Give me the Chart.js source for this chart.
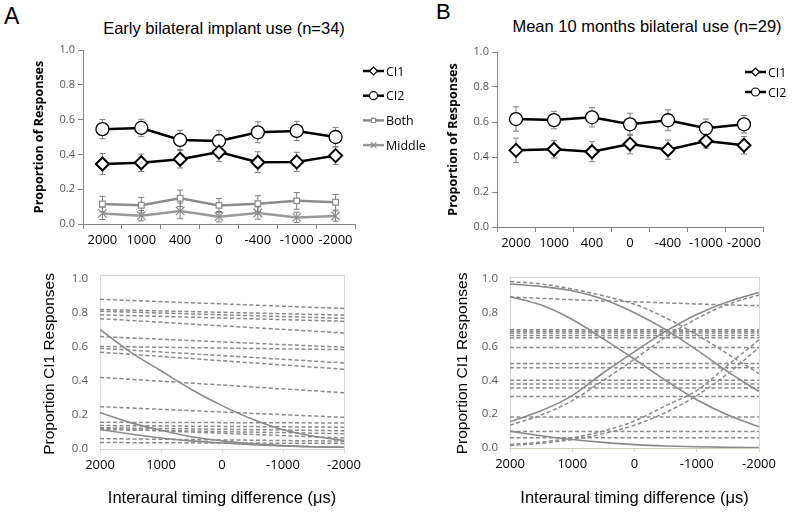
<!DOCTYPE html>
<html>
<head>
<meta charset="utf-8">
<script src="https://cdn.jsdelivr.net/npm/chart.js@4.4.1/dist/chart.umd.min.js"></script>
<style>
  html, body { margin: 0; padding: 0; background: #fff; }
  #page { position: relative; width: 792px; height: 512px; overflow: hidden; font-family: "Liberation Sans", Arial, sans-serif; }
  canvas { position: absolute; }
  .lbl { position: absolute; color: #000; white-space: nowrap; }
  .ttl { position: absolute; color: #000; white-space: nowrap; text-align: center; font-size: 16.5px; }
</style>
</head>
<body>
<div id="page">
  <div class="lbl" style="left:4px;top:3px;font-size:23px;">A</div>
  <div class="lbl" style="left:436px;top:-1px;font-size:22px;">B</div>
  <div class="ttl" style="left:0;width:448px;top:19px;">Early bilateral implant use (n=34)</div>
  <div class="ttl" style="left:447px;width:400px;top:17px;">Mean 10 months bilateral use (n=29)</div>

  <canvas id="topB" width="392" height="220" style="left:400px;top:40px"></canvas>
  <canvas id="topA" width="440" height="220" style="left:0;top:40px"></canvas>
  <canvas id="botA" width="400" height="252" style="left:0;top:260px"></canvas>
  <canvas id="botB" width="392" height="252" style="left:400px;top:260px"></canvas>
</div>
<script>
// ---- top panels: group means with error bars ----
const itdLabels = ['2000', '1000', '400', '0', '-400', '-1000', '-2000'];

const ci1A = [0.345, 0.352, 0.372, 0.413, 0.355, 0.357, 0.393];
const ci1ErrA = [0.06, 0.05, 0.05, 0.055, 0.06, 0.055, 0.05];
const ci2A = [0.545, 0.552, 0.483, 0.477, 0.527, 0.535, 0.50];
const ci2ErrA = [0.055, 0.05, 0.055, 0.06, 0.06, 0.055, 0.055];
const bothA = [0.115, 0.108, 0.148, 0.107, 0.117, 0.133, 0.125];
const bothErrA = [0.044, 0.045, 0.047, 0.04, 0.045, 0.048, 0.045];
const middleA = [0.061, 0.048, 0.075, 0.042, 0.063, 0.038, 0.046];
const middleErrA = [0.035, 0.03, 0.045, 0.03, 0.035, 0.03, 0.03];

const ci1B = [0.438, 0.444, 0.43, 0.474, 0.442, 0.491, 0.467];
const ci1ErrB = [0.07, 0.05, 0.057, 0.056, 0.055, 0.04, 0.05];
const ci2B = [0.617, 0.611, 0.627, 0.587, 0.61, 0.564, 0.587];
const ci2ErrB = [0.07, 0.05, 0.055, 0.063, 0.06, 0.053, 0.05];

// ---- bottom panels: individual fits ----
const fitX = [2000, 1500, 1000, 500, 0, -500, -1000, -1500, -2000];

// near-flat dashed fits, value at 2000 and at -2000
const dashedA = [
  [0.88, 0.826], [0.82, 0.787], [0.81, 0.768], [0.789, 0.751], [0.766, 0.682],
  [0.661, 0.598], [0.603, 0.584], [0.592, 0.506], [0.569, 0.469], [0.421, 0.331],
  [0.249, 0.186], [0.157, 0.153], [0.138, 0.128], [0.125, 0.107], [0.115, 0.09],
  [0.12, 0.065], [0.061, 0.046], [0.038, 0.033]
];
const solidA1 = [0.703, 0.57, 0.46, 0.35, 0.255, 0.175, 0.113, 0.075, 0.05];
const solidA2 = [0.215, 0.155, 0.11, 0.072, 0.048, 0.03, 0.02, 0.013, 0.01];
const solidA3 = [0.115, 0.088, 0.065, 0.048, 0.035, 0.025, 0.018, 0.013, 0.01];

const flatB = [0.70, 0.69, 0.68, 0.665, 0.652, 0.595, 0.50, 0.475, 0.40, 0.378, 0.355, 0.305, 0.183, 0.097, 0.06];
const solidB1 = [0.97, 0.955, 0.93, 0.88, 0.80, 0.70, 0.58, 0.45, 0.335];
const solidB2 = [0.895, 0.845, 0.76, 0.645, 0.525, 0.40, 0.285, 0.195, 0.125];
const solidB3 = [0.155, 0.22, 0.31, 0.445, 0.57, 0.69, 0.79, 0.865, 0.92];
const solidB4 = [0.10, 0.072, 0.05, 0.033, 0.02, 0.012, 0.007, 0.004, 0.002];
const dashB1 = [0.135, 0.195, 0.28, 0.40, 0.525, 0.655, 0.765, 0.85, 0.905];
const dashB2 = [0.985, 0.97, 0.94, 0.90, 0.85, 0.77, 0.67, 0.555, 0.44];
const dashB3 = [0.02, 0.035, 0.06, 0.10, 0.16, 0.25, 0.34, 0.49, 0.64];
const dashB4 = [0.015, 0.028, 0.05, 0.085, 0.135, 0.21, 0.31, 0.44, 0.595];
const dashB5 = [0.893, 0.885, 0.877, 0.87, 0.865, 0.858, 0.852, 0.846, 0.842];

const FIT_GREY = '#8a8a8a';

// draws the error bars behind the markers
const errorBars = {
  id: 'errorBars',
  beforeDatasetsDraw(chart) {
    const ctx = chart.ctx;
    const y = chart.scales.y;
    chart.data.datasets.forEach((ds, i) => {
      if (!ds.errors) return;
      const meta = chart.getDatasetMeta(i);
      ctx.save();
      ctx.strokeStyle = '#7f7f7f';
      ctx.lineWidth = 1;
      meta.data.forEach((pt, j) => {
        const v = ds.data[j], e = ds.errors[j];
        const top = y.getPixelForValue(v + e), bot = y.getPixelForValue(v - e);
        ctx.beginPath();
        ctx.moveTo(pt.x, top); ctx.lineTo(pt.x, bot);
        ctx.moveTo(pt.x - 3, top); ctx.lineTo(pt.x + 3, top);
        ctx.moveTo(pt.x - 3, bot); ctx.lineTo(pt.x + 3, bot);
        ctx.stroke();
      });
      ctx.restore();
    });
  }
};

// legend to the right of the plot: line + small marker + label
const sideLegend = {
  id: 'sideLegend',
  afterDraw(chart, args, opts) {
    const ctx = chart.ctx;
    chart.data.datasets.forEach((ds, i) => {
      const cy = opts.y0 + i * opts.dy;
      const cx = opts.x + opts.len / 2;
      ctx.save();
      ctx.strokeStyle = ds.borderColor;
      ctx.lineWidth = ds.borderWidth;
      ctx.beginPath();
      ctx.moveTo(opts.x, cy); ctx.lineTo(opts.x + opts.len, cy);
      ctx.stroke();
      ctx.fillStyle = '#fff';
      ctx.strokeStyle = ds.pointBorderColor;
      ctx.lineWidth = 1.2;
      Chart.helpers.drawPoint(ctx, { pointStyle: ds.pointStyle, radius: ds.pointStyle === 'rect' ? 3 : 4, borderWidth: 1.2, rotation: 0 }, cx, cy);
      ctx.fillStyle = '#000';
      ctx.font = '12.5px "Open Sans"';
      ctx.textBaseline = 'middle';
      ctx.fillText(ds.label, opts.x + opts.len + 2, cy + 1);
      ctx.restore();
    });
  }
};

// light box round the plot area
const frame = {
  id: 'frame',
  beforeDatasetsDraw(chart, args, opts) {
    const a = chart.chartArea, ctx = chart.ctx;
    ctx.save();
    ctx.strokeStyle = '#d9d9d9';
    ctx.lineWidth = 1;
    ctx.strokeRect(Math.round(a.left) + 0.5, Math.round(a.top - opts.extraTop) + 0.5, Math.round(a.width), Math.round(a.height + opts.extraTop));
    if (opts.bottomColor) {
      ctx.strokeStyle = opts.bottomColor;
      ctx.beginPath();
      ctx.moveTo(a.left, Math.round(a.bottom) + 0.5); ctx.lineTo(a.right, Math.round(a.bottom) + 0.5);
      ctx.stroke();
    }
    ctx.restore();
  }
};

function meanSet(label, data, errors, style) {
  return Object.assign({
    label, data, errors,
    borderColor: '#000', borderWidth: 2.5,
    pointBackgroundColor: '#fff', pointBorderColor: '#000',
    pointBorderWidth: 1.6, pointRadius: 6, tension: 0
  }, style);
}

function topChart(id, datasets, g) {
  return new Chart(document.getElementById(id), {
    type: 'line',
    data: { labels: itdLabels, datasets },
    options: {
      responsive: false, animation: false,
      layout: { padding: { left: g.padL, right: g.padR, top: g.padT, bottom: 0 } },
      plugins: { legend: { display: false }, tooltip: { enabled: false }, sideLegend: g.legend },
      scales: {
        x: {
          type: 'category', offset: true,
          grid: { display: true, drawOnChartArea: false, offset: true, tickLength: 5, color: '#868686' },
          border: { display: true, color: '#868686' },
          ticks: { color: '#000', font: { family: 'Open Sans', size: 13 }, padding: 3, maxRotation: 0, autoSkip: false },
          afterFit: s => { s.height = g.xh; }
        },
        y: {
          min: 0, max: 1,
          grid: { drawOnChartArea: false, tickLength: 5, color: '#868686' },
          border: { color: '#868686' },
          ticks: { stepSize: 0.2, color: '#595959', font: { family: 'Open Sans', size: 11 }, padding: 3, callback: v => v.toFixed(1) },
          title: { display: true, text: 'Proportion of Responses', color: '#000', font: { family: 'Open Sans', size: 12.5, weight: 'bold' }, padding: 2 },
          afterFit: s => { s.width = g.yw; }
        }
      }
    },
    plugins: [errorBars, sideLegend]
  });
}

topChart('topA', [
  meanSet('CI1', ci1A, ci1ErrA, { pointStyle: 'rectRot', pointRadius: 6.5, pointBorderWidth: 2 }),
  meanSet('CI2', ci2A, ci2ErrA, { pointStyle: 'circle', pointRadius: 6.5, pointBorderWidth: 1.3 }),
  meanSet('Both', bothA, bothErrA, { borderColor: '#8c8c8c', pointBorderColor: '#8c8c8c', pointStyle: 'rect', pointRadius: 4, pointBorderWidth: 1.2 }),
  meanSet('Middle', middleA, middleErrA, { borderColor: '#9a9a9a', pointBorderColor: '#8c8c8c', pointStyle: 'crossRot', pointRadius: 6, pointBorderWidth: 1.2 })
], { padL: 30, padR: 85, padT: 10, yw: 53, xh: 36, legend: { x: 363, y0: 31, dy: 24.7, len: 21 } });

topChart('topB', [
  meanSet('CI1', ci1B, ci1ErrB, { pointStyle: 'rectRot', pointRadius: 6.5, pointBorderWidth: 2 }),
  meanSet('CI2', ci2B, ci2ErrB, { pointStyle: 'circle', pointRadius: 6.5, pointBorderWidth: 1.3 })
], { padL: 44, padR: 29, padT: 12, yw: 53, xh: 33, legend: { x: 345, y0: 32, dy: 20, len: 21 } });

function pts(ys) { return ys.map((y, i) => ({ x: fitX[i], y })); }
function flat(a, b) { return [{ x: 2000, y: a }, { x: -2000, y: b }]; }
function fitSet(data, dashed) {
  return {
    data, borderColor: FIT_GREY, borderWidth: dashed ? 1.5 : 1.6,
    borderDash: dashed ? [4, 2.5] : [], pointRadius: 0,
    tension: 0.4, cubicInterpolationMode: 'monotone'
  };
}

function bottomChart(id, datasets, g) {
  return new Chart(document.getElementById(id), {
    type: 'line',
    data: { datasets },
    options: {
      responsive: false, animation: false,
      layout: { padding: { left: g.padL, right: g.padR, top: g.padT, bottom: 0 } },
      plugins: { legend: { display: false }, tooltip: { enabled: false }, frame: { extraTop: g.extraTop, bottomColor: g.bottomColor } },
      scales: {
        x: {
          type: 'linear', min: -2000, max: 2000, reverse: true,
          grid: { drawOnChartArea: false, tickLength: 4, color: '#d9d9d9' },
          border: { display: false },
          ticks: { stepSize: 1000, color: '#000', font: { family: 'Open Sans', size: 13 }, padding: 4, maxRotation: 0, callback: v => String(v) },
          title: { display: true, text: 'Interaural timing difference (μs)', color: '#000', font: { family: 'Liberation Sans', size: 16.5 }, padding: 4 },
          afterFit: s => { s.height = g.xh; }
        },
        y: {
          min: 0, max: 1,
          grid: { drawOnChartArea: false, drawTicks: false },
          border: { display: false },
          ticks: { stepSize: 0.2, color: '#595959', font: { family: 'Open Sans', size: 11.5 }, padding: 12, callback: v => v.toFixed(1) },
          title: { display: true, text: 'Proportion CI1 Responses', color: '#000', font: { family: 'Liberation Sans', size: 15.5 }, padding: 2 },
          afterFit: s => { s.width = g.yw; }
        }
      }
    },
    plugins: [frame]
  });
}

bottomChart('botA', [
  ...dashedA.map(([a, b]) => fitSet(flat(a, b), true)),
  fitSet(pts(solidA1), false),
  fitSet(pts(solidA2), false),
  fitSet(pts(solidA3), false)
], { padL: 38, padR: 56, padT: 15, yw: 62, xh: 63, extraTop: 4 });

bottomChart('botB', [
  ...flatB.map(v => fitSet(flat(v, v), true)),
  fitSet(pts(dashB1), true),
  fitSet(pts(dashB2), true),
  fitSet(pts(dashB3), true),
  fitSet(pts(dashB4), true),
  fitSet(pts(dashB5), true),
  fitSet(pts(solidB1), false),
  fitSet(pts(solidB2), false),
  fitSet(pts(solidB3), false),
  fitSet(pts(solidB4), false)
], { padL: 51, padR: 33, padT: 13, yw: 59, xh: 64, extraTop: 2, bottomColor: '#c9d6b8' });
</script>
</body>
</html>
